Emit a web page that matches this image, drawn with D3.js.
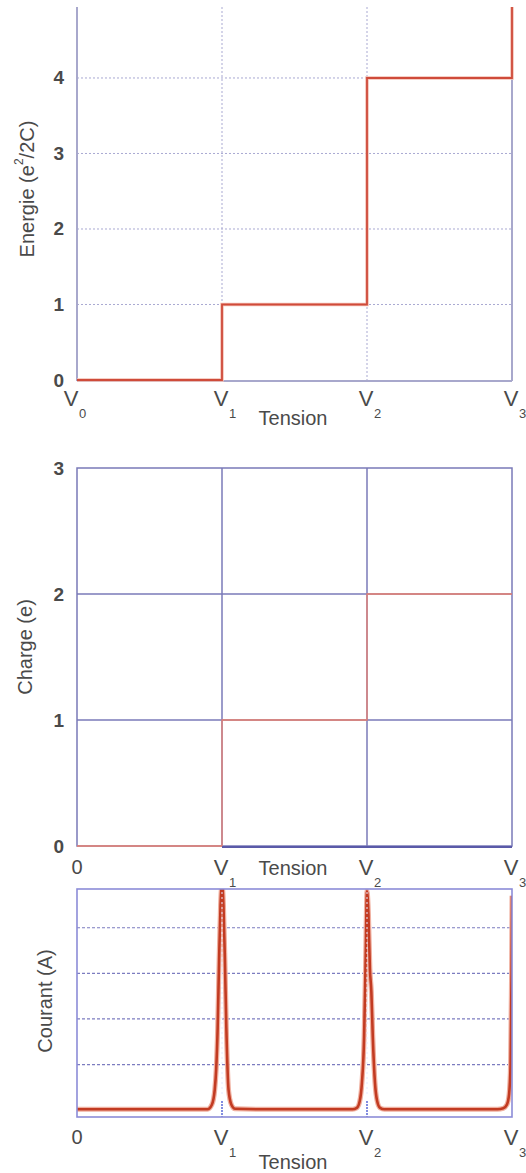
<!DOCTYPE html>
<html><head><meta charset="utf-8">
<script src="https://cdn.jsdelivr.net/npm/d3@7"></script>
<style>
html,body{margin:0;padding:0;background:#fff;}
svg{display:block;}
text{font-family:"Liberation Sans",Arial,sans-serif;fill:#4a4a4a;}
</style></head>
<body>
<svg id="c" width="526" height="1173"></svg>
<script>
// ---- data ----
const tensionTicks = [0, 1, 2, 3];
const tensionSubs = ["0", "1", "2", "3"];
const energyLevels = [0, 1, 4, 9];          // Energie (e^2/2C) after each threshold
const energyTicks = [0, 1, 2, 3, 4];
const chargeLevels = [0, 1, 2, 2];          // Charge (e)
const chargeTicks = [0, 1, 2, 3];
const courantGrid = [1, 2, 3, 4];
const courantV = [0, 0.5, 0.9, 0.93, 0.95, 0.96, 0.97, 0.98, 0.99, 1.0, 1.01, 1.02, 1.03, 1.045, 1.065, 1.09, 1.3,
  1.6, 1.9, 1.93, 1.95, 1.965, 1.98, 1.99, 2.0, 2.01, 2.02, 2.03, 2.04, 2.055, 2.07, 2.09, 2.12, 2.5,
  2.9, 2.94, 2.965, 2.98, 2.99, 2.997, 3.0];
const courantI = [0.02, 0.02, 0.02, 0.12, 0.45, 0.9, 1.8, 3.3, 4.5, 4.95, 4.5, 3.3, 1.8, 0.45, 0.12, 0.03, 0.02,
  0.02, 0.02, 0.05, 0.2, 0.6, 1.6, 3.2, 4.8, 4.3, 3.1, 2.6, 1.6, 0.6, 0.2, 0.05, 0.02, 0.02,
  0.02, 0.04, 0.12, 0.35, 1.0, 3.0, 4.7];

const svg = d3.select("#c");
const X0 = 77, X1 = 512;
const x = d3.scaleLinear().domain([0, 3]).range([X0, X1]);
const FS = 19;

function yLabel(cx, cy, build) {
  const t = svg.append("text").attr("transform", `translate(${cx},${cy}) rotate(-90)`)
    .attr("text-anchor", "middle").attr("dominant-baseline", "central").attr("font-size", 20);
  build(t);
}
function vLabels(yv, withZeroAsV) {
  tensionTicks.forEach((t, i) => {
    if (i === 0 && !withZeroAsV) {
      svg.append("text").attr("x", x(t)).attr("y", yv).attr("text-anchor", "middle")
        .attr("dominant-baseline", "central").attr("font-size", FS + 1).text("0");
      return;
    }
    const cx = x(t) - (i === 0 ? 6 : 1);
    svg.append("text").attr("x", cx).attr("y", yv).attr("text-anchor", "middle")
      .attr("dominant-baseline", "central").attr("font-size", 22).text("V");
    svg.append("text").attr("x", cx + 8).attr("y", yv + 15).attr("text-anchor", "start")
      .attr("dominant-baseline", "central").attr("font-size", 13).text(tensionSubs[i]);
  });
}

// ================= Plot 1 : Energie =================
{
  const y = d3.scaleLinear().domain([0, 4.94]).range([380, 7]);
  const g = svg.append("g");
  const gridC = "#a9a9d2";
  g.selectAll("line.hg").data(energyTicks.filter(d => d > 0)).join("line")
    .attr("x1", X0).attr("x2", X1).attr("y1", d => y(d)).attr("y2", d => y(d))
    .attr("stroke", gridC).attr("stroke-width", 1).attr("stroke-dasharray", "2,2");
  g.selectAll("line.vg").data([1, 2]).join("line")
    .attr("x1", d => x(d)).attr("x2", d => x(d)).attr("y1", y(4.94)).attr("y2", y(0))
    .attr("stroke", gridC).attr("stroke-width", 1).attr("stroke-dasharray", "2,2");
  const fc = "#a8a8cc";
  g.append("line").attr("x1", X0).attr("x2", X0).attr("y1", 7).attr("y2", 381).attr("stroke", fc).attr("stroke-width", 2);
  g.append("line").attr("x1", X1).attr("x2", X1).attr("y1", 7).attr("y2", 381).attr("stroke", fc).attr("stroke-width", 2);
  g.append("line").attr("x1", X0).attr("x2", X1).attr("y1", 381).attr("y2", 381).attr("stroke", fc).attr("stroke-width", 2);
  svg.append("clipPath").attr("id", "cp1").append("rect").attr("x", X0 - 2).attr("y", 7).attr("width", X1 - X0 + 4).attr("height", 376);
  const line = d3.line().x(d => x(d[0])).y(d => y(d[1])).curve(d3.curveStepAfter);
  const pts = tensionTicks.map((t, i) => [t, energyLevels[i]]);
  g.append("path").attr("clip-path", "url(#cp1)").attr("d", line(pts)).attr("fill", "none")
    .attr("stroke", "#f4c0b4").attr("stroke-width", 3.5);
  g.append("path").attr("clip-path", "url(#cp1)").attr("d", line(pts)).attr("fill", "none")
    .attr("stroke", "#cf4b3a").attr("stroke-width", 1.8);
  energyTicks.forEach(d => {
    svg.append("text").attr("x", 64).attr("y", y(d)).attr("text-anchor", "end")
      .attr("dominant-baseline", "central").attr("font-size", FS).attr("font-weight", "bold").attr("fill", "#555").text(d);
  });
  vLabels(398, true);
  svg.append("text").attr("x", 293).attr("y", 418).attr("text-anchor", "middle")
    .attr("dominant-baseline", "central").attr("font-size", 20).text("Tension");
  yLabel(27, 189, t => {
    t.append("tspan").text("Energie (e");
    t.append("tspan").attr("font-size", 12).attr("dy", -8).text("2");
    t.append("tspan").attr("dy", 8).text("/2C)");
  });
}

// ================= Plot 2 : Charge =================
{
  const y = d3.scaleLinear().domain([0, 3]).range([846, 468]);
  const g = svg.append("g");
  const gc = "#7a7ab8";
  g.selectAll("line.hg").data([1, 2]).join("line")
    .attr("x1", X0).attr("x2", X1).attr("y1", d => y(d)).attr("y2", d => y(d))
    .attr("stroke", gc).attr("stroke-width", 1.5);
  g.selectAll("line.vg").data([1, 2]).join("line")
    .attr("x1", d => x(d)).attr("x2", d => x(d)).attr("y1", y(3)).attr("y2", y(0))
    .attr("stroke", gc).attr("stroke-width", 1.5);
  g.append("rect").attr("x", X0).attr("y", y(3)).attr("width", X1 - X0).attr("height", y(0) - y(3))
    .attr("fill", "none").attr("stroke", gc).attr("stroke-width", 1.5);
  const line = d3.line().x(d => x(d[0])).y(d => y(d[1])).curve(d3.curveStepAfter);
  const pts = tensionTicks.map((t, i) => [t, chargeLevels[i]]);
  g.append("path").attr("d", line(pts)).attr("fill", "none").attr("stroke", "#e8806e").attr("stroke-width", 1.3);
  g.append("line").attr("x1", x(1)).attr("x2", X1).attr("y1", y(0) + 1).attr("y2", y(0) + 1)
    .attr("stroke", "#5a5aa8").attr("stroke-width", 2);
  chargeTicks.forEach(d => {
    svg.append("text").attr("x", 64).attr("y", y(d)).attr("text-anchor", "end")
      .attr("dominant-baseline", "central").attr("font-size", FS).attr("font-weight", "bold").attr("fill", "#555").text(d);
  });
  vLabels(867, false);
  svg.append("text").attr("x", 293).attr("y", 868).attr("text-anchor", "middle")
    .attr("dominant-baseline", "central").attr("font-size", 20).text("Tension");
  yLabel(25, 647, t => t.text("Charge (e)"));
}

// ================= Plot 3 : Courant =================
{
  const y = d3.scaleLinear().domain([-0.15, 4.85]).range([1117, 889]);
  const g = svg.append("g");
  g.selectAll("line.hg").data(courantGrid).join("line")
    .attr("x1", X0).attr("x2", X1).attr("y1", d => y(d)).attr("y2", d => y(d))
    .attr("stroke", "#7c7cc0").attr("stroke-width", 1.2).attr("stroke-dasharray", "3,2");
  svg.append("clipPath").attr("id", "cp3").append("rect").attr("x", X0).attr("y", 889).attr("width", X1 - X0).attr("height", 228);
  const line = d3.line().x((d, i) => x(courantV[i])).y(d => y(d)).curve(d3.curveMonotoneX);
  g.append("path").attr("clip-path", "url(#cp3)").attr("d", line(courantI)).attr("fill", "none")
    .attr("stroke", "#f0b0a0").attr("stroke-width", 5);
  g.append("path").attr("clip-path", "url(#cp3)").attr("d", line(courantI)).attr("fill", "none")
    .attr("stroke", "#c23b22").attr("stroke-width", 2.6);
  g.selectAll("line.vg").data([1, 2]).join("line")
    .attr("x1", d => x(d)).attr("x2", d => x(d)).attr("y1", 892).attr("y2", y(0.3))
    .attr("stroke", "#e6e8ff").attr("stroke-width", 1).attr("stroke-dasharray", "2,3");
  g.selectAll("line.vb").data([1, 2]).join("line")
    .attr("x1", d => x(d)).attr("x2", d => x(d)).attr("y1", y(0.2)).attr("y2", 1117)
    .attr("stroke", "#4050d0").attr("stroke-width", 1.3).attr("stroke-dasharray", "2,1");
  g.append("rect").attr("x", X0).attr("y", 889).attr("width", X1 - X0).attr("height", 228)
    .attr("fill", "none").attr("stroke", "#8c8cd8").attr("stroke-width", 1.6);
  vLabels(1137, false);
  svg.append("text").attr("x", 293).attr("y", 1162).attr("text-anchor", "middle")
    .attr("dominant-baseline", "central").attr("font-size", 20).text("Tension");
  yLabel(45, 1001, t => t.text("Courant (A)"));
}
</script>
</body></html>
